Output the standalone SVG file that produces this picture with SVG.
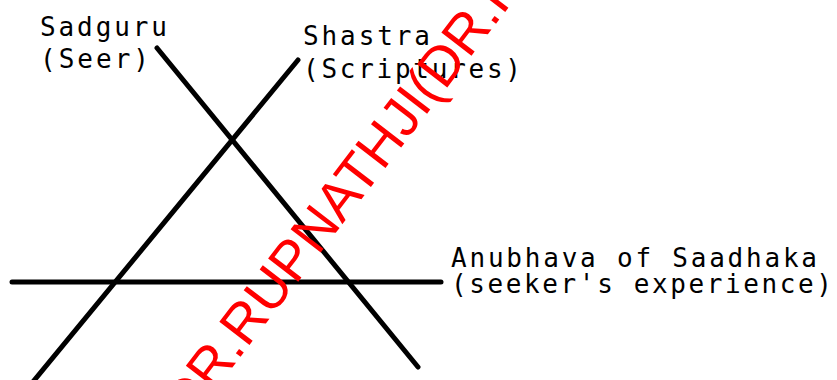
<svg xmlns="http://www.w3.org/2000/svg" width="837" height="380" viewBox="0 0 837 380">
  <style>
    .lbl { font-family: "DejaVu Sans Mono", "Liberation Mono", monospace; font-size: 26px; fill: #000; }
    .ln { stroke: #000; stroke-width: 5; stroke-linecap: round; fill: none; }
    .wm { font-family: "Liberation Sans", Arial, sans-serif; font-size: 55.3px; fill: #ff0000; }
  </style>
  <rect width="837" height="380" fill="#fff"/>
  <g id="connectors">
    <line class="ln" x1="157" y1="48" x2="418" y2="367"/>
    <line class="ln" x1="298" y1="60" x2="32" y2="383"/>
    <line class="ln" x1="12" y1="282" x2="441" y2="282"/>
  </g>
  <g id="sadguru">
    <text class="lbl" x="40" y="36" textLength="127" lengthAdjust="spacing">Sadguru</text>
    <text class="lbl" x="40" y="68" textLength="109" lengthAdjust="spacing">(Seer)</text>
  </g>
  <g id="shastra">
    <text class="lbl" x="303" y="45" textLength="127" lengthAdjust="spacing">Shastra</text>
    <text class="lbl" x="303" y="78" textLength="218" lengthAdjust="spacing">(Scriptures)</text>
  </g>
  <g id="anubhava">
    <text class="lbl" x="451" y="267" textLength="366" lengthAdjust="spacing">Anubhava of Saadhaka</text>
    <text class="lbl" x="451" y="293" textLength="381" lengthAdjust="spacing">(seeker's experience)</text>
  </g>
  <g id="watermark">
    <text class="wm" transform="translate(188.9,424.1) rotate(-52.5)">DR.RUPNATHJI(DR.R</text>
  </g>
</svg>
